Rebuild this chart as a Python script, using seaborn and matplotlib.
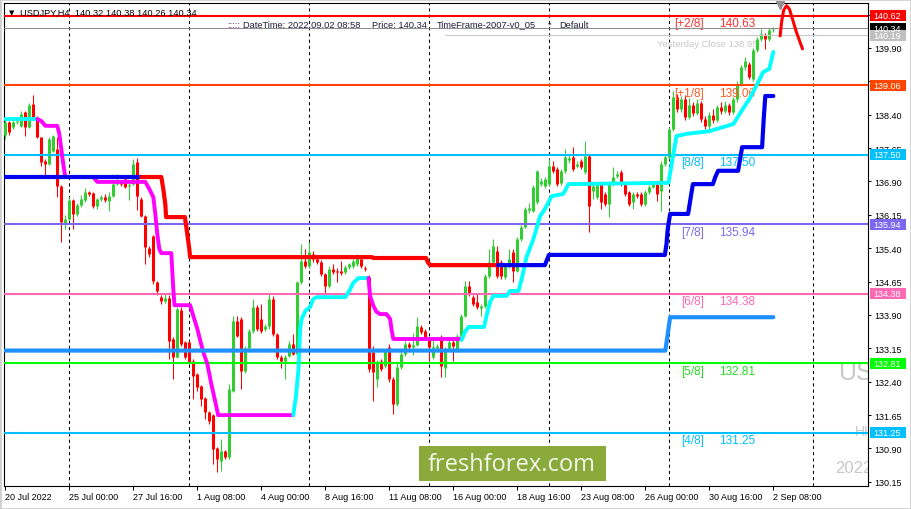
import numpy as np
import matplotlib
matplotlib.use("Agg")
import matplotlib.pyplot as plt
import matplotlib.transforms as mtransforms
from matplotlib.patches import Rectangle
import seaborn as sns

# USDJPY H4 candles, bar 0 = 20 Jul 2022 08:00
opens = [
    137.94, 138.24, 138.12, 138.24, 138.15, 138.46, 138.12, 138.64, 138.35, 137.90,
    137.36, 137.29, 137.58, 137.63, 136.80, 135.94, 136.06, 136.48, 136.17, 136.37,
    136.49, 136.66, 136.64, 136.35, 136.51, 136.55, 136.47, 136.58, 136.84, 136.89,
    136.96, 136.80, 136.84, 137.34, 136.51, 136.13, 135.41, 135.68, 134.64, 134.30,
    134.22, 134.28, 133.36, 132.96, 134.01, 133.29, 133.29, 132.87, 132.57, 132.30,
    132.03, 131.72, 131.65, 130.91, 130.62, 130.84, 130.71, 132.19, 133.77, 133.81,
    132.64, 133.16, 133.54, 134.08, 133.81, 133.59, 133.65, 134.26, 133.47, 132.96,
    132.87, 132.98, 133.25, 133.02, 134.64, 135.11, 135.00, 135.27, 135.16, 135.09,
    134.82, 134.55, 134.93, 134.89, 134.89, 134.86, 134.98, 135.00, 135.05, 135.16,
    134.96, 134.75, 133.07, 132.46, 132.87, 132.75, 133.18, 132.46, 131.90, 132.73,
    133.02, 133.25, 133.18, 133.23, 133.63, 133.54, 133.36, 132.96, 133.16, 133.41,
    132.71, 133.14, 133.29, 133.11, 133.43, 133.88, 134.55, 134.30, 134.19, 134.06,
    134.10, 134.77, 135.09, 135.34, 135.09, 134.75, 135.00, 135.32, 134.89, 135.61,
    135.88, 136.26, 136.24, 136.44, 136.84, 136.80, 136.84, 137.25, 137.18, 136.87,
    137.13, 137.38, 137.45, 137.25, 137.36, 137.11, 137.47, 136.69, 136.55, 136.84,
    136.62, 136.39, 136.84, 137.02, 137.11, 136.84, 136.66, 136.44, 136.62, 136.62,
    136.39, 136.66, 136.78, 136.84, 136.69, 137.29, 137.45, 138.08, 138.80, 138.53,
    138.75, 138.35, 138.62, 138.44, 138.66, 138.30, 138.15, 138.40, 138.28, 138.57,
    138.48, 138.62, 138.46, 138.75, 139.09, 139.47, 139.54, 139.20, 139.85, 140.10,
    140.19, 140.10, 140.32]
highs = [
    138.28, 138.26, 138.28, 138.30, 138.48, 138.48, 138.66, 138.84, 138.37, 137.90,
    137.40, 137.90, 137.94, 137.90, 136.82, 136.15, 136.55, 136.51, 136.42, 136.60,
    136.75, 136.69, 136.66, 136.53, 136.60, 136.62, 136.66, 136.87, 137.07, 136.93,
    137.00, 136.87, 137.40, 137.43, 136.55, 136.15, 135.45, 135.70, 134.66, 134.35,
    134.40, 134.35, 133.40, 134.08, 134.08, 133.32, 133.32, 132.91, 132.60, 132.33,
    132.06, 131.75, 131.68, 130.93, 131.11, 130.86, 132.35, 133.88, 133.88, 133.85,
    133.20, 133.58, 134.26, 134.12, 134.15, 133.70, 134.37, 134.33, 133.50, 133.00,
    133.00, 133.32, 133.47, 134.66, 135.50, 135.38, 135.54, 135.34, 135.20, 135.14,
    134.85, 135.00, 135.05, 134.95, 135.11, 135.02, 135.07, 135.16, 135.27, 135.20,
    135.00, 134.80, 133.20, 132.89, 132.91, 133.14, 133.25, 132.50, 132.84, 133.07,
    133.32, 133.29, 133.50, 133.85, 133.68, 133.58, 133.41, 133.36, 133.25, 133.45,
    133.18, 133.34, 133.34, 133.47, 133.92, 134.66, 134.66, 134.35, 134.37, 134.15,
    134.82, 135.38, 135.61, 135.45, 135.14, 135.05, 135.38, 135.38, 135.65, 135.92,
    136.33, 136.42, 136.82, 137.16, 136.98, 137.00, 137.40, 137.36, 137.22, 137.18,
    137.63, 137.50, 137.67, 137.36, 137.40, 137.81, 137.52, 136.84, 136.89, 136.89,
    136.66, 136.89, 137.22, 137.13, 137.16, 136.89, 136.69, 136.66, 136.66, 136.66,
    136.71, 136.82, 136.89, 136.89, 137.36, 137.50, 138.12, 138.93, 138.87, 138.82,
    138.84, 138.78, 138.69, 138.75, 138.71, 138.37, 138.46, 138.53, 138.62, 138.69,
    138.71, 138.66, 138.80, 139.15, 139.52, 139.70, 139.58, 139.90, 140.15, 140.33,
    140.24, 140.35, 140.38]
lows = [
    137.85, 137.94, 138.08, 138.19, 138.12, 137.92, 138.10, 138.33, 137.88, 137.25,
    137.02, 137.27, 137.56, 136.55, 135.54, 135.83, 136.03, 135.83, 136.12, 136.33,
    136.44, 136.58, 136.30, 136.28, 136.46, 136.44, 136.24, 136.55, 136.82, 136.80,
    136.75, 136.48, 136.82, 136.26, 136.10, 135.05, 135.20, 134.60, 134.35, 134.15,
    134.17, 132.91, 132.46, 132.93, 133.20, 132.91, 132.80, 132.01, 132.20, 131.86,
    131.56, 131.45, 130.55, 130.37, 130.39, 130.66, 130.66, 132.17, 133.40, 132.24,
    132.60, 133.12, 133.50, 133.55, 133.50, 133.55, 133.59, 133.43, 132.91, 132.71,
    132.46, 132.96, 133.00, 132.96, 134.60, 134.96, 134.96, 135.10, 135.05, 134.78,
    134.37, 134.50, 134.82, 134.64, 134.80, 134.82, 134.93, 134.96, 135.00, 134.96,
    134.88, 132.62, 131.97, 132.28, 132.64, 132.71, 132.39, 131.68, 131.86, 132.69,
    132.98, 133.14, 133.00, 133.20, 133.47, 133.36, 132.86, 132.91, 133.12, 132.51,
    132.51, 133.09, 132.86, 133.07, 133.38, 133.85, 134.32, 134.10, 134.03, 133.88,
    134.06, 134.73, 135.05, 134.73, 134.71, 134.71, 134.96, 134.64, 134.86, 135.56,
    135.85, 136.19, 136.21, 136.40, 136.80, 136.75, 136.80, 137.09, 136.80, 136.82,
    137.09, 137.32, 137.13, 137.20, 137.18, 137.07, 135.76, 136.51, 136.51, 136.28,
    136.35, 136.10, 136.80, 136.98, 136.80, 136.58, 136.35, 136.28, 136.53, 136.35,
    136.35, 136.62, 136.75, 136.46, 136.24, 137.25, 137.40, 138.03, 138.46, 138.46,
    138.28, 138.30, 138.37, 138.40, 138.24, 138.08, 138.06, 138.21, 138.24, 138.42,
    138.44, 138.40, 138.42, 138.69, 139.04, 139.40, 139.20, 139.15, 139.80, 140.05,
    139.88, 140.05, 140.26]
closes = [
    138.24, 138.01, 138.24, 138.26, 138.42, 138.12, 138.62, 138.35, 137.90, 137.34,
    137.29, 137.85, 137.92, 136.80, 135.99, 136.06, 136.48, 136.17, 136.37, 136.51,
    136.66, 136.62, 136.35, 136.51, 136.55, 136.49, 136.58, 136.84, 136.91, 136.84,
    136.78, 136.82, 137.29, 136.58, 136.13, 135.43, 135.27, 134.66, 134.44, 134.22,
    134.28, 133.32, 132.96, 134.03, 133.25, 132.96, 132.84, 132.53, 132.28, 132.01,
    131.72, 131.52, 130.89, 130.66, 130.84, 130.71, 132.24, 133.77, 133.43, 132.64,
    133.16, 133.54, 134.08, 133.59, 133.54, 133.65, 134.26, 133.47, 132.96, 132.87,
    132.96, 133.25, 133.02, 134.64, 135.11, 135.00, 135.32, 135.16, 135.09, 134.82,
    134.55, 134.93, 134.86, 134.86, 134.84, 134.98, 135.05, 135.11, 135.20, 135.00,
    134.93, 132.69, 132.62, 132.84, 132.69, 133.09, 132.46, 131.90, 132.73, 133.02,
    133.25, 133.18, 133.23, 133.65, 133.52, 133.41, 133.18, 133.18, 133.20, 132.75,
    133.14, 133.29, 133.20, 133.43, 133.88, 134.55, 134.37, 134.15, 134.08, 134.10,
    134.77, 135.09, 135.45, 134.77, 134.77, 135.00, 135.16, 134.89, 135.61, 135.88,
    136.28, 136.30, 136.78, 137.13, 136.91, 136.96, 137.25, 137.13, 136.84, 137.13,
    137.45, 137.43, 137.18, 137.29, 137.22, 137.47, 136.35, 136.80, 136.84, 136.44,
    136.39, 136.84, 137.00, 137.07, 136.84, 136.62, 136.39, 136.62, 136.58, 136.39,
    136.66, 136.78, 136.84, 136.62, 137.29, 137.45, 138.08, 138.80, 138.53, 138.75,
    138.35, 138.62, 138.44, 138.66, 138.30, 138.15, 138.40, 138.28, 138.57, 138.48,
    138.62, 138.46, 138.75, 139.09, 139.47, 139.61, 139.25, 139.85, 140.10, 140.21,
    140.10, 140.30, 140.34]

time_ticks = [0, 16, 32, 48, 64, 80, 96, 112, 128, 144, 160, 176, 192]
time_labels = ["20 Jul 2022", "25 Jul 00:00", "27 Jul 16:00", "1 Aug 08:00",
               "4 Aug 00:00", "8 Aug 16:00", "11 Aug 08:00", "16 Aug 00:00",
               "18 Aug 16:00", "23 Aug 08:00", "26 Aug 00:00", "30 Aug 16:00",
               "2 Sep 08:00"]
week_bars = [16, 46, 76, 106, 136, 166, 202]
price_ticks = [130.15, 130.90, 131.65, 132.40, 133.15, 133.90, 134.65,
               135.40, 136.15, 136.90, 137.65, 138.40, 139.15, 139.90, 140.65]

# Murrey math levels
levels = [140.62, 139.06, 137.50, 135.94, 134.38, 132.81, 131.25]
level_tags = ["[+2/8]", "[+1/8]", "[8/8]", "[7/8]", "[6/8]", "[5/8]", "[4/8]"]
level_texts = ["140.63", "139.06", "137.50", "135.94", "134.38", "132.81", "131.25"]
level_colors = ["#ff0000", "#ff4500", "#00bfff", "#7b68ee", "#ff69b4", "#00ff00", "#00bfff"]
level_text_colors = ["#ff3030", "#ff5a1e", "#00bfff", "#7b68ee", "#ff69b4", "#22dd22", "#00bfff"]

# right-axis price boxes
box_prices = [140.62, 140.34, 140.19, 139.06, 137.50, 135.94, 134.38, 132.81, 131.25]
box_colors = ["#ff0000", "#000000", "#c0c0c0", "#ff4500", "#00bfff", "#7b68ee",
              "#ff69b4", "#00ff00", "#00bfff"]

# trailing-stop lines (bar index, price)
cyan_a_x = [0, 8]
cyan_a_y = [138.30, 138.30]
magenta_a_x = [8, 9, 10, 13, 13.5, 14, 14.5, 15, 22, 23, 35, 36, 37, 37.5, 38, 38.5, 39,
               41.5, 42, 42.3, 46.2, 47, 48, 49.4, 50.5, 51.5, 52.5, 53.2, 72]
magenta_a_y = [138.30, 138.26, 138.15, 138.15, 137.97, 137.63, 137.29, 137.00, 137.00,
               136.89, 136.89, 136.73, 136.55, 136.17, 135.72, 135.38, 135.29, 135.29,
               134.48, 134.12, 134.12, 133.88, 133.59, 133.09, 132.80, 132.35, 131.95,
               131.65, 131.65]
cyan_b_x = [72, 72.7, 73.3, 73.7, 74.1, 75, 76.2, 77, 77.8, 85, 86, 87, 88.3, 90.8]
cyan_b_y = [131.65, 132.10, 132.69, 133.59, 133.81, 133.99, 134.08, 134.26, 134.30,
            134.30, 134.44, 134.62, 134.73, 134.73]
magenta_b_x = [90.8, 91.2, 92, 92.8, 93.7, 95.3, 96.2, 96.6, 97, 114]
magenta_b_y = [134.73, 134.33, 134.11, 133.97, 133.92, 133.92, 133.81, 133.55, 133.36, 133.36]
cyan_c_x = [114.1, 114.9, 115.8, 119.7, 120.3, 121.2, 122, 125.3, 126.2, 128.3, 129.1,
            130.3, 132, 133.7, 134.9, 136.6, 139.5, 140.8, 165.8, 166.8, 167.8, 170.3,
            176, 182, 184.4, 186, 188, 189.5, 191, 192]
cyan_c_y = [133.34, 133.52, 133.63, 133.63, 133.88, 134.19, 134.33, 134.33, 134.44,
            134.44, 134.71, 135.20, 135.60, 136.12, 136.28, 136.57, 136.62, 136.84,
            136.87, 137.40, 137.92, 137.97, 138.03, 138.19, 138.53, 138.75, 139.09,
            139.36, 139.43, 139.81]

blue_a_x = [0, 34]
blue_a_y = [137.00, 137.00]
red_x = [34, 39, 39.5, 40, 40.2, 44.9, 45.5, 46, 46.2, 91.7, 92, 105.2, 105.6, 106.2, 123.2]
red_y = [137.00, 137.00, 136.73, 136.39, 136.10, 136.10, 135.72, 135.38, 135.20, 135.20,
         135.18, 135.18, 135.09, 135.02, 135.02]
blue_b_x = [123.2, 134.9, 135.5, 135.9, 164.9, 165.3, 165.6, 166.2, 170.7, 171.3, 171.9,
            176.9, 177.5, 178.2, 183.2, 183.7, 184.2, 189.2, 189.6, 190, 192]
blue_b_y = [135.02, 135.02, 135.16, 135.25, 135.25, 135.50, 135.83, 136.17, 136.17,
            136.51, 136.84, 136.84, 137.00, 137.14, 137.14, 137.40, 137.67, 137.67,
            138.30, 138.82, 138.82]
dodger_x = [0, 165, 165.5, 166.2, 192]
dodger_y = [133.10, 133.10, 133.40, 133.85, 133.85]

arc_x = [193.7, 194.1, 194.6, 195.3, 196.0, 196.8, 197.8, 199.3]
arc_y = [140.17, 140.50, 140.75, 140.85, 140.78, 140.55, 140.25, 139.88]

sns.set_theme(style="white")
plt.rcParams["font.family"] = ["Liberation Sans", "DejaVu Sans"]

W, H = 911, 510
fig = plt.figure(figsize=(W / 100, H / 100), dpi=100)
ax = fig.add_axes([4 / W, 23 / H, 864 / W, 483 / H])
ax.set_facecolor("white")
ax.set_xlim(-0.325, 215.675)
ax.set_ylim(130.057, 140.91)


def fx(px):
    return px / W


def fy(py):
    return 1 - py / H


# week separators
for xv in week_bars:
    ax.axvline(xv, color="black", lw=0.75, ls=(0, (3, 3)), zorder=0.5)

# candles
o = np.array(opens)
c = np.array(closes)
x = np.arange(len(o))
cols = np.where(c >= o, "#32cd32", "#ff0000")
ax.vlines(x, lows, highs, colors=cols, lw=0.75, zorder=3)
lo = np.minimum(o, c)
hi = np.maximum(np.maximum(o, c), lo + 0.025)
ax.vlines(x, lo, hi, colors=cols, lw=2.2, zorder=3)

ax.text(162.9, 140.01, "Yesterday Close 138.95", color="#c8c8c8", fontsize=6.8,
        va="center", zorder=2)

# level lines and labels
for lv, tag, txt, lc, tc in zip(levels, level_tags, level_texts, level_colors, level_text_colors):
    ax.axhline(lv, color=lc, lw=1.5, zorder=4)
    ax.text(174.7, lv - 0.17, tag, color=tc, fontsize=8.5, ha="right", va="center", zorder=4)
    ax.text(178.4, lv - 0.17, txt, color=tc, fontsize=8.5, ha="left", va="center", zorder=4)
ax.axhline(140.34, color="#909090", lw=0.75, zorder=4)
ax.plot([110, 215.7], [140.19, 140.19], color="#c8c8c8", lw=0.75, zorder=4)

# indicator lines
for lx, ly, col in [(cyan_a_x, cyan_a_y, "#00ffff"), (magenta_a_x, magenta_a_y, "#ff00ff"),
                    (cyan_b_x, cyan_b_y, "#00ffff"), (magenta_b_x, magenta_b_y, "#ff00ff"),
                    (cyan_c_x, cyan_c_y, "#00ffff")]:
    sns.lineplot(x=lx, y=ly, ax=ax, color=col, lw=2.8, sort=False, estimator=None, zorder=5)
for lx, ly, col in [(blue_a_x, blue_a_y, "#0000ee"), (red_x, red_y, "#ff0000"),
                    (blue_b_x, blue_b_y, "#0000ee"), (dodger_x, dodger_y, "#1e90ff")]:
    sns.lineplot(x=lx, y=ly, ax=ax, color=col, lw=3.0, sort=False, estimator=None, zorder=5)
sns.lineplot(x=arc_x, y=arc_y, ax=ax, color="#ff0000", lw=2.2, sort=False, estimator=None, zorder=5)
ax.plot([193.7], [140.86], marker="v", color="#909090", ms=6, zorder=6, clip_on=False)

# watermark pieces (clipped at the right edge)
ax.text(208.2, 132.64, "USDJPY,H4", color="#c8c8c8", fontsize=18, va="center", clip_on=True, zorder=1)
ax.text(212.4, 131.29, "HI", color="#c8c8c8", fontsize=10, va="center", clip_on=True, zorder=1)
ax.text(207.4, 130.48, "2022.09.02", color="#c8c8c8", fontsize=12, va="center", clip_on=True, zorder=1)

# axes styling
for s in ax.spines.values():
    s.set_color("black")
    s.set_linewidth(0.8)
ax.set_xticks(time_ticks)
ax.set_xticklabels(time_labels)
ax.yaxis.tick_right()
ax.set_yticks(price_ticks)
ax.set_yticklabels(["%.2f" % v for v in price_ticks])
ax.tick_params(axis="x", direction="out", length=3, width=0.75, pad=1.5, labelsize=6.5,
               colors="black", bottom=True)
ax.tick_params(axis="y", direction="out", length=2.2, width=0.75, pad=2.5, labelsize=6.5,
               colors="black", right=True, left=False)
for lab in ax.get_xticklabels():
    lab.set_ha("left")
ax.set_xlabel("")
ax.set_ylabel("")
ax.grid(False)

# right-axis price boxes
trans = mtransforms.blended_transform_factory(ax.transAxes, ax.transData)
bh = 11 * 0.02247
for p, bc in zip(box_prices, box_colors):
    ax.add_patch(Rectangle((1.0023, p - bh / 2), 0.0417, bh, transform=trans,
                           fc=bc, ec="none", clip_on=False, zorder=6))
    ax.text(1.0058, p, "%.2f" % p, transform=trans, color="white", fontsize=6.5,
            va="center", ha="left", clip_on=False, zorder=7)

# header texts
fig.text(fx(9), fy(13), "\u25bc", fontsize=5, va="center", color="black",
         family=["DejaVu Sans"])
fig.text(fx(20), fy(13), "USDJPY,H4  140.32 140.38 140.26 140.34", fontsize=6.7,
         va="center", color="black")
navy = "#1f1f40"
fig.text(fx(227), fy(25), ":::::", fontsize=6.7, va="center", color="#5a2a7a")
fig.text(fx(243), fy(25), "DateTime: 2022.09.02 08:58", fontsize=6.7, va="center", color=navy)
fig.text(fx(372), fy(25), "Price: 140.34", fontsize=6.7, va="center", color=navy)
fig.text(fx(437), fy(25), "TimeFrame-2007-v0_05", fontsize=6.7, va="center", color=navy)
fig.text(fx(548), fy(25), "*", fontsize=6.7, va="center", color=navy)
fig.text(fx(559), fy(25), "Default", fontsize=6.7, va="center", color=navy)

# freshforex badge
fig.add_artist(Rectangle((fx(419), fy(482)), 187 / W, 35 / H, transform=fig.transFigure,
                         fc="#8aaa3c", ec="none", zorder=8))
fig.text(fx(512), fy(465), "freshforex.com", fontsize=17, color="#f4f7ea",
         ha="center", va="center", family=["Open Sans", "DejaVu Sans"], zorder=9)

# window border
fig.add_artist(Rectangle((0, 0), 1, 1, transform=fig.transFigure, fill=False,
                         ec="#d0d0d0", lw=2))

fig.savefig("out.png", dpi=100)
plt.close(fig)
